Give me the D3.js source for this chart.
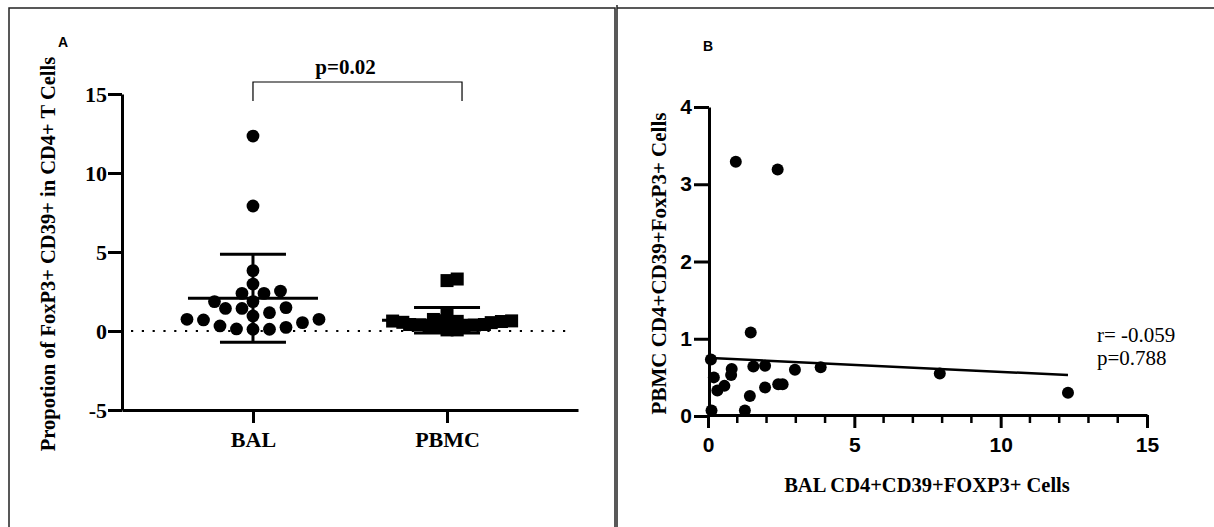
<!DOCTYPE html>
<html>
<head>
<meta charset="utf-8">
<script src="https://cdn.jsdelivr.net/npm/d3@7"></script>
<style>
  html, body { margin: 0; padding: 0; background: #fff; }
  svg { display: block; }
</style>
</head>
<body>
<svg id="chart" width="1214" height="527"></svg>
<script>
// ---------------- DATA ----------------
const groupsA = ["BAL", "PBMC"];
const balValues = [12.34, 7.91, 3.82, 2.97, 2.38, 2.38, 2.53, 1.86, 1.86, 1.48, 1.43, 1.43,
                   1.16, 0.95, 0.74, 0.74, 0.70, 0.53, 0.32, 0.23, 0.13, 0.11, 0.11];
const pbmcValues = [3.29, 3.19, 1.08, 0.73, 0.50, 0.33, 0.39, 0.61, 0.53, 0.64, 0.65,
                    0.26, 0.37, 0.41, 0.41, 0.60, 0.63, 0.07, 0.07, 0.55, 0.30];
const groupMeans = [2.07, 0.68];
const groupSD = [2.78, 0.80];
const yTicksA = [-5, 0, 5, 10, 15];
const pValueA = "p=0.02";

// Panel B: paired values (x = BAL, y = PBMC)
const corrBAL  = [0.95, 2.38, 1.46, 0.10, 0.20, 0.32, 0.56, 0.81, 0.79, 1.55, 1.95,
                  1.43, 1.95, 2.40, 2.55, 2.97, 3.85, 0.12, 1.26, 7.92, 12.30];
const corrPBMC = [3.29, 3.19, 1.08, 0.73, 0.50, 0.33, 0.39, 0.61, 0.53, 0.64, 0.65,
                  0.26, 0.37, 0.41, 0.41, 0.60, 0.63, 0.07, 0.07, 0.55, 0.30];
const fitIntercept = 0.752;
const fitSlope = -0.018;
const xTicksB = [0, 5, 10, 15];
const xMinorTicksB = [1, 2, 3, 4, 6, 7, 8, 9, 11, 12, 13, 14];
const yTicksB = [0, 1, 2, 3, 4];
const statsB = ["r= -0.059", "p=0.788"];

// ---------------- SETUP ----------------
const svg = d3.select("#chart");
const SERIF = "'Liberation Serif', 'Times New Roman', serif";
const SANS = "'Liberation Sans', Arial, sans-serif";

// Frames
svg.append("rect").attr("x", 9).attr("y", 8).attr("width", 606).attr("height", 530)
  .attr("fill", "none").attr("stroke", "#222").attr("stroke-width", 1.5);
svg.append("line").attr("x1", 617).attr("x2", 617).attr("y1", 5).attr("y2", 527)
  .attr("stroke", "#222").attr("stroke-width", 1.5);
svg.append("line").attr("x1", 617).attr("x2", 1214).attr("y1", 8).attr("y2", 8)
  .attr("stroke", "#222").attr("stroke-width", 1.5);

// ---------------- PANEL A ----------------
const xA = d3.scalePoint().domain(groupsA).range([122, 578]).padding(0.675);
const yA = d3.scaleLinear().domain([-5, 15]).range([410, 94]);

svg.append("text").attr("x", 58).attr("y", 47).text("A")
  .attr("font-family", SANS).attr("font-weight", "bold").attr("font-size", 14);

// zero dotted line
svg.append("line").attr("x1", 131).attr("x2", 572).attr("y1", yA(0)).attr("y2", yA(0))
  .attr("stroke", "#000").attr("stroke-width", 2.2).attr("stroke-dasharray", "2.2,8.6");

// y axis
const gyA = svg.append("g").attr("transform", `translate(122,0)`)
  .call(d3.axisLeft(yA).tickValues(yTicksA).tickSize(14).tickSizeOuter(0).tickPadding(1)
    .tickFormat(d => String(d)));
gyA.select(".domain").attr("stroke-width", 3);
gyA.selectAll(".tick line").attr("stroke-width", 3);
gyA.selectAll(".tick text").attr("font-family", SERIF).attr("font-weight", "bold")
  .attr("font-size", 22).attr("fill", "#000");

// x axis
const gxA = svg.append("g").attr("transform", `translate(0,${yA(-5)})`)
  .call(d3.axisBottom(xA).tickSize(13).tickSizeOuter(0).tickPadding(8));
gxA.select(".domain").attr("stroke-width", 3);
gxA.selectAll(".tick line").attr("stroke-width", 3);
gxA.selectAll(".tick text").attr("font-family", SERIF).attr("font-weight", "bold")
  .attr("font-size", 22).attr("fill", "#000");

// y title
svg.append("text")
  .attr("transform", `translate(55,${(yA(15) + yA(-5)) / 2 + 2}) rotate(-90)`)
  .attr("text-anchor", "middle")
  .attr("font-family", SERIF).attr("font-weight", "bold").attr("font-size", 20.5)
  .text("Propotion of FoxP3+ CD39+ in CD4+ T Cells");

// beeswarm dodge
function dodge(values, cx, minDist, step) {
  const order = values.map((v, i) => i).sort((a, b) => values[a] - values[b]);
  const placed = [];
  const out = new Array(values.length);
  order.forEach(i => {
    const y = yA(values[i]);
    for (let k = 0; k < 200; k++) {
      const off = (k === 0) ? 0 : (k % 2 === 1 ? 1 : -1) * Math.ceil(k / 2) * step;
      const x = cx + off;
      const ok = placed.every(p => Math.hypot(p.x - x, p.y - y) >= minDist);
      if (ok) { placed.push({x, y}); out[i] = {x, y}; break; }
    }
  });
  return out;
}

// error bars
groupsA.forEach((g, i) => {
  const cx = xA(g);
  const m = groupMeans[i], s = groupSD[i];
  const grp = svg.append("g").attr("stroke", "#000").attr("stroke-width", 3);
  grp.append("line").attr("x1", cx).attr("x2", cx).attr("y1", yA(m + s)).attr("y2", yA(m - s));
  grp.append("line").attr("x1", cx - 33).attr("x2", cx + 33).attr("y1", yA(m + s)).attr("y2", yA(m + s));
  grp.append("line").attr("x1", cx - 33).attr("x2", cx + 33).attr("y1", yA(m - s)).attr("y2", yA(m - s));
});

// BAL dots
const balPos = dodge(balValues, xA("BAL"), 12.6, 5.5);
svg.append("g").selectAll("circle").data(balPos).join("circle")
  .attr("cx", d => d.x).attr("cy", d => d.y).attr("r", 6.4).attr("fill", "#000");

// PBMC squares
const pbmcPos = dodge(pbmcValues, xA("PBMC"), 7, 3.4);
svg.append("g").selectAll("rect").data(pbmcPos).join("rect")
  .attr("x", d => d.x - 6.5).attr("y", d => d.y - 6.5).attr("width", 13).attr("height", 13)
  .attr("fill", "#000");

// mean lines (on top)
groupsA.forEach((g, i) => {
  const cx = xA(g);
  svg.append("line").attr("x1", cx - 65).attr("x2", cx + 65)
    .attr("y1", yA(groupMeans[i])).attr("y2", yA(groupMeans[i]))
    .attr("stroke", "#000").attr("stroke-width", 3);
});

// significance bracket
const bx1 = xA("BAL"), bx2 = xA("PBMC") + 15;
svg.append("path")
  .attr("d", `M${bx1},101 V82 H${bx2} V101`)
  .attr("fill", "none").attr("stroke", "#000").attr("stroke-width", 1.2);
svg.append("text").attr("x", (bx1 + bx2) / 2 - 12).attr("y", 74).attr("text-anchor", "middle")
  .attr("font-family", SERIF).attr("font-weight", "bold").attr("font-size", 21).text(pValueA);

// ---------------- PANEL B ----------------
const xB = d3.scaleLinear().domain([0, 15]).range([708, 1147]);
const yB = d3.scaleLinear().domain([0, 4]).range([416, 107]);

svg.append("text").attr("x", 703).attr("y", 51).text("B")
  .attr("font-family", SANS).attr("font-weight", "bold").attr("font-size", 14);

// minor ticks
svg.append("g").selectAll("line").data(xMinorTicksB).join("line")
  .attr("x1", d => xB(d)).attr("x2", d => xB(d)).attr("y1", 415).attr("y2", 423)
  .attr("stroke", "#000").attr("stroke-width", 2.5);

const gxB = svg.append("g").attr("transform", `translate(0,415)`)
  .call(d3.axisBottom(xB).tickValues(xTicksB).tickSize(13).tickSizeOuter(0).tickPadding(9)
    .tickFormat(d3.format("d")));
gxB.select(".domain").attr("stroke-width", 3);
gxB.selectAll(".tick line").attr("stroke-width", 3);
gxB.selectAll(".tick text").attr("font-family", SANS).attr("font-weight", "bold")
  .attr("font-size", 21).attr("fill", "#000");

const gyB = svg.append("g").attr("transform", `translate(709,0)`)
  .call(d3.axisLeft(yB).tickValues(yTicksB).tickSize(15).tickSizeOuter(0).tickPadding(2)
    .tickFormat(d3.format("d")));
gyB.select(".domain").attr("stroke-width", 3);
gyB.selectAll(".tick line").attr("stroke-width", 3);
gyB.selectAll(".tick text").attr("font-family", SANS).attr("font-weight", "bold")
  .attr("font-size", 21).attr("fill", "#000");

// axis titles
svg.append("text")
  .attr("transform", `translate(666,${(yB(0) + yB(4)) / 2 + 2}) rotate(-90)`)
  .attr("text-anchor", "middle")
  .attr("font-family", SERIF).attr("font-weight", "bold").attr("font-size", 21)
  .text("PBMC CD4+CD39+FoxP3+ Cells");
svg.append("text").attr("x", 927).attr("y", 492).attr("text-anchor", "middle")
  .attr("font-family", SERIF).attr("font-weight", "bold").attr("font-size", 20.5)
  .text("BAL CD4+CD39+FOXP3+ Cells");

// points
svg.append("g").selectAll("circle").data(corrBAL).join("circle")
  .attr("cx", d => xB(d)).attr("cy", (d, i) => yB(corrPBMC[i])).attr("r", 6)
  .attr("fill", "#000");

// regression line
const fx0 = d3.min(corrBAL), fx1 = d3.max(corrBAL);
svg.append("line")
  .attr("x1", xB(fx0)).attr("y1", yB(fitIntercept + fitSlope * fx0))
  .attr("x2", xB(fx1)).attr("y2", yB(fitIntercept + fitSlope * fx1))
  .attr("stroke", "#000").attr("stroke-width", 2.5);

// stats text
svg.append("g").selectAll("text").data(statsB).join("text")
  .attr("x", 1097).attr("y", (d, i) => 342 + i * 23)
  .attr("font-family", SERIF).attr("font-size", 21).attr("fill", "#000")
  .text(d => d);
</script>
</body>
</html>
